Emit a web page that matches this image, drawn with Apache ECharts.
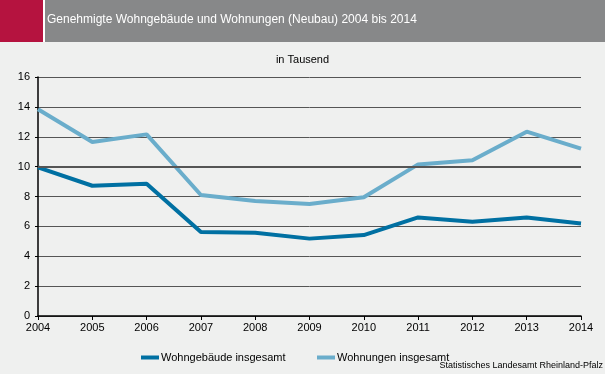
<!DOCTYPE html>
<html><head><meta charset="utf-8">
<script src="https://cdn.jsdelivr.net/npm/echarts@6/dist/echarts.min.js"></script>
<style>html,body{margin:0;padding:0;background:#eff0ef}#c{width:605px;height:374px}</style>
</head><body><div id="c"></div>
<script>
const years = ['2004','2005','2006','2007','2008','2009','2010','2011','2012','2013','2014'];
const wohngebaeude = [9.95, 8.72, 8.86, 5.62, 5.58, 5.18, 5.42, 6.6, 6.31, 6.6, 6.2];
const wohnungen = [13.84, 11.65, 12.16, 8.1, 7.7, 7.5, 7.95, 10.15, 10.42, 12.34, 11.2];
const yTicks = [0, 2, 4, 6, 8, 10, 12, 14, 16];
const chart = echarts.init(document.getElementById('c'));
const F = '"Liberation Sans", Arial, sans-serif';
const legendBase = {top: 347, itemWidth: 18, itemHeight: 4, icon: 'rect',
  textStyle: {fontFamily: F, fontSize: 11, color: '#000', padding:[0,0,0,-3]}};
chart.setOption({
  backgroundColor: '#eff0ef',
  animation: false,
  graphic: [
    {type:'rect', shape:{x:0,y:0,width:43,height:42}, style:{fill:'#b5133f'}},
    {type:'rect', shape:{x:43,y:0,width:2,height:42}, style:{fill:'#ffffff'}},
    {type:'rect', shape:{x:45,y:0,width:560,height:42}, style:{fill:'#878889'}},
    {type:'text', left:47, top:14, style:{text:'Genehmigte Wohngebäude und Wohnungen (Neubau) 2004 bis 2014', fill:'#ffffff', font:'12px '+F}},
    {type:'text', left:'center', top:54, style:{text:'in Tausend', fill:'#000', font:'11px '+F, x:0}},
    {type:'text', right:2, top:361, style:{text:'Statistisches Landesamt Rheinland-Pfalz', fill:'#000', font:'9px '+F}}
  ],
  grid: {left:38, right:24, top:77, bottom:58},
  legend: [
    Object.assign({left: 136, data: ['Wohngebäude insgesamt']}, legendBase),
    Object.assign({left: 312, data: ['Wohnungen insgesamt']}, legendBase)
  ],
  xAxis: {
    type: 'category', data: years, boundaryGap: false,
    axisLine: {lineStyle: {color: '#000', width: 1.5}},
    axisTick: {show: true, length: 4, lineStyle: {color: '#000'}},
    axisLabel: {fontFamily: F, fontSize: 11, color: '#000', margin: 6}
  },
  yAxis: {
    type: 'value', min: 0, max: 16, interval: 2,
    axisLine: {show: true, lineStyle: {color: '#000', width: 1.5}},
    axisTick: {show: true, length: 3, lineStyle: {color: '#000'}},
    axisLabel: {fontFamily: F, fontSize: 11, color: '#000', margin: 8},
    splitLine: {lineStyle: {color: '#555', width: 1}}
  },
  series: [
    {name:'Wohngebäude insgesamt', type:'line', data: wohngebaeude, symbol:'none',
     lineStyle:{color:'#0070a2', width:4}, itemStyle:{color:'#0070a2'}, z:3,
     markLine: {silent:true, symbol:'none', label:{show:false},
       lineStyle:{color:'#555', width:2, type:'solid'}, data:[{yAxis:10}]}},
    {name:'Wohnungen insgesamt', type:'line', data: wohnungen, symbol:'none',
     lineStyle:{color:'#6aadcb', width:4}, itemStyle:{color:'#6aadcb'}, z:3}
  ]
});
</script></body></html>
